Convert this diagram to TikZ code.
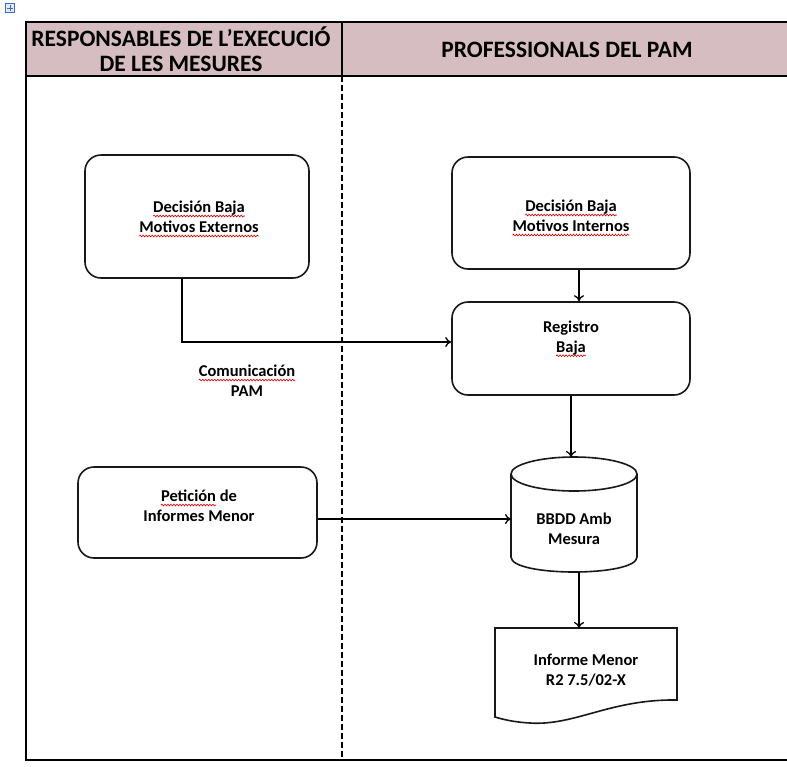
\documentclass[tikz,border=0pt]{standalone}
\usepackage{fontspec}
\setmainfont{Carlito}
\usetikzlibrary{arrows.meta,decorations.pathmorphing}
\definecolor{headfill}{RGB}{214,189,193}
\definecolor{iconblue}{RGB}{60,110,200}
\newsavebox\rwbox
\newcommand\rw[1]{\sbox\rwbox{#1}\leavevmode\rlap{\tikz[overlay,x=1pt,y=1pt]\draw[red!85!black,line width=0.6pt,decorate,decoration={snake,amplitude=0.9pt,segment length=3pt}] (0,-3.3) -- (\the\wd\rwbox,-3.3);}\usebox\rwbox}
\tikzset{
  boxline/.style={line width=1.6pt, draw=black!90},
  rbox/.style={boxline, rounded corners=16pt, fill=white},
  ghost/.style={inner sep=0pt, outer sep=0pt},
  boxtext/.style={align=center, font=\fontsize{16.5}{20}\selectfont\bfseries, inner sep=0pt},
  headtext/.style={align=center, font=\fontsize{23.5}{25}\selectfont\bfseries, inner sep=0pt},
  arr/.style={line width=1.3pt, -{To[length=6pt,width=10pt]}},
  tline/.style={line width=1.5pt},
}
\begin{document}
\begin{tikzpicture}[x=1pt,y=-1pt]
\useasboundingbox (0,0) rectangle (787,766);
\begin{scope}
\clip (0,0) rectangle (787,766);
% table
\fill[headfill] (26,22) rectangle (795,76);
\draw[tline] (795,22) -- (26,22) -- (26,760) -- (795,760);
\draw[tline] (26,76) -- (795,76);
\draw[line width=1.2pt] (342,22) -- (342,76);
\draw[line width=1.4pt, dash pattern=on 6pt off 3pt] (342,76) -- (342,760);
\end{scope}
% move handle icon
\node[draw=iconblue, fill=iconblue!15, line width=0.6pt, minimum size=9pt, inner sep=0pt] (icon) at (10,8) {};
\draw[iconblue, line width=0.8pt] ([yshift=-3pt]icon.center) -- ([yshift=3pt]icon.center);
\draw[iconblue, line width=0.8pt] ([xshift=-3pt]icon.center) -- ([xshift=3pt]icon.center);
% headers
\node[headtext] (h1) at (181,49) {RESPONSABLES DE L'EXECUCIÓ\\DE LES MESURES};
\node[headtext] (h2) at (567,50) {PROFESSIONALS DEL PAM};
% boxes
\node[rbox, minimum width=224pt, minimum height=123pt] (ext) at (197,216.5) {};
\node[boxtext] (extt) at (199,217) {\rw{Decisión Baja}\\\rw{Motivos Externos}};
\node[rbox, minimum width=238pt, minimum height=112pt] (int) at (571,213) {};
\node[boxtext] (intt) at (571,216) {\rw{Decisión Baja}\\\rw{Motivos Internos}};
\node[rbox, minimum width=238pt, minimum height=93pt] (reg) at (571,348.5) {};
\node[boxtext] (regt) at (571,338) {Registro\\\rw{Baja}};
\node[boxtext] (com) at (247,381) {\rw{Comunicación}\\PAM};
\node[rbox, minimum width=239pt, minimum height=91pt] (pet) at (197.5,512.5) {};
\node[boxtext] (pett) at (199,506) {\rw{Petición} de\\Informes Menor};
% cylinder
\node[ghost, minimum width=126pt, minimum height=115pt] (bbdd) at (574,514.5) {};
\draw[boxline, fill=white] (511,474) -- (511,557) .. controls (511,577) and (637,577) .. (637,557) -- (637,474);
\draw[boxline, fill=white] (574,474) ellipse [x radius=63, y radius=17];
\node[boxtext] (bbddt) at (574,529) {BBDD Amb\\Mesura};
% document
\node[ghost, minimum width=182pt, minimum height=89pt] (doc) at (586,672.5) {};
\draw[boxline, fill=white] (495,717) -- (495,628) -- (677,628) -- (677,700)
  .. controls (610,699) and (575,726) .. (530,723) .. controls (512,722) and (502,719) .. (495,717) -- cycle;
\node[boxtext] (doct) at (586,670) {Informe Menor\\R2 7.5/02-X};
% connectors
\draw[arr] ([xshift=-15pt]ext.south) |- ([yshift=6.5pt]reg.west);
\draw[arr] ([xshift=8pt]int.south) -- ([xshift=8pt]int.south |- reg.north);
\draw[arr] (reg.south) -- (reg.south |- bbdd.north);
\draw[arr] ([yshift=-6.5pt]pet.east) -- ([yshift=-6.5pt]pet.east -| bbdd.west);
\draw[arr] ([xshift=5pt]bbdd.south) -- ([xshift=5pt]bbdd.south |- doc.north);
\end{tikzpicture}
\end{document}
